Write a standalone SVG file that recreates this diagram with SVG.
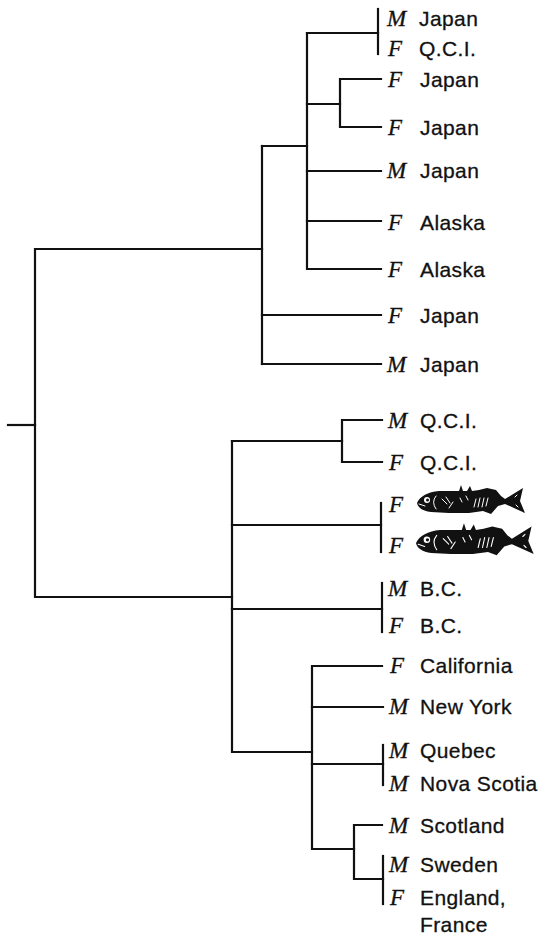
<svg xmlns="http://www.w3.org/2000/svg" width="545" height="937" viewBox="0 0 545 937">
  <style>
    .br { fill: none; stroke: #111; stroke-width: 2.2; stroke-linecap: square; }
    .sx { font-family: "Liberation Serif", "Times New Roman", serif; font-style: italic; font-size: 23px; fill: #111; stroke: #111; stroke-width: 0.3; }
    .loc { font-family: "Liberation Sans", Arial, Helvetica, sans-serif; font-size: 21px; letter-spacing: 0.4px; fill: #111; stroke: #111; stroke-width: 0.3; }
    .fw { fill: none; stroke: #fff; stroke-width: 1; stroke-linecap: round; }
  </style>
  <defs>
    <!-- stickleback silhouette, snout at the origin -->
    <g id="fish">
      <path fill="#111" d="M0,1 C3,-6 11,-10 22,-11 L42,-11 L44,-17 L46,-11 L50,-11 L53,-16 L55,-11 L62,-12 L70,-14 L79,-12 L84,-6 L88,-3 L106,-14 L103,-1 L108,11 L88,2 L81,4 L74,12 L66,9 L52,11 L32,11 L14,10 C6,9 1,6 0,1 Z"/>
      <circle cx="10" cy="-2" r="3" fill="#fff"/>
      <circle cx="10.5" cy="-2" r="1.5" fill="#111"/>
      <path class="fw" d="M2,2 L8,4"/>
      <path class="fw" d="M19,-6 Q14,0 19,7"/>
      <path class="fw" d="M25,-3 L30,2 M29,-5 L33,1 M32,6 L36,0"/>
      <path class="fw" d="M57,5 L59,-3 M61,5 L63,-4 M65,5 L67,-4 M69,4 L71,-4"/>
      <path class="fw" d="M43,-4 L45,0 M49,-6 L51,-2"/>
      <path class="fw" d="M98,-5 L100,-7 M99,3 L101,5"/>
    </g>
  </defs>

  <!-- branches of the tree -->
  <g id="connectors">
    <path class="br" d="M8,425 H35"/>
    <path class="br" d="M262,249 H35 V597 H232"/>
    <!-- upper clade -->
    <path class="br" d="M262,146 V364"/>
    <path class="br" d="M262,146 H307"/>
    <path class="br" d="M262,315 H381"/>
    <path class="br" d="M262,364 H381"/>
    <path class="br" d="M307,33 V269 H381"/>
    <path class="br" d="M307,33 H378"/>
    <path class="br" d="M378,9 V54"/>
    <path class="br" d="M307,104 H340"/>
    <path class="br" d="M381,79 H340 V127 H381"/>
    <path class="br" d="M307,171 H381"/>
    <path class="br" d="M307,221 H381"/>
    <!-- lower clade -->
    <path class="br" d="M232,441 V752 H312"/>
    <path class="br" d="M232,441 H342"/>
    <path class="br" d="M382,420 H342 V462 H382"/>
    <path class="br" d="M232,525 H381"/>
    <path class="br" d="M381,503 V552"/>
    <path class="br" d="M232,609 H382"/>
    <path class="br" d="M382,583 V632"/>
    <path class="br" d="M382,666 H312 V849 H354"/>
    <path class="br" d="M312,707 H383"/>
    <path class="br" d="M312,764 H383"/>
    <path class="br" d="M383,745 V785"/>
    <path class="br" d="M382,825 H354 V879 H383"/>
    <path class="br" d="M383,856 V904"/>
  </g>

  <!-- leaves: sex and locality -->
  <g id="leaf-01"><text class="sx" x="387" y="26">M</text><text class="loc" x="419" y="26">Japan</text></g>
  <g id="leaf-02"><text class="sx" x="388" y="56">F</text><text class="loc" x="419" y="56">Q.C.I.</text></g>
  <g id="leaf-03"><text class="sx" x="388" y="87">F</text><text class="loc" x="420" y="87">Japan</text></g>
  <g id="leaf-04"><text class="sx" x="388" y="135">F</text><text class="loc" x="420" y="135">Japan</text></g>
  <g id="leaf-05"><text class="sx" x="387" y="178">M</text><text class="loc" x="420" y="178">Japan</text></g>
  <g id="leaf-06"><text class="sx" x="388" y="230">F</text><text class="loc" x="420" y="230">Alaska</text></g>
  <g id="leaf-07"><text class="sx" x="388" y="277">F</text><text class="loc" x="420" y="277">Alaska</text></g>
  <g id="leaf-08"><text class="sx" x="388" y="323">F</text><text class="loc" x="420" y="323">Japan</text></g>
  <g id="leaf-09"><text class="sx" x="387" y="372">M</text><text class="loc" x="420" y="372">Japan</text></g>
  <g id="leaf-10"><text class="sx" x="388" y="428">M</text><text class="loc" x="420" y="428">Q.C.I.</text></g>
  <g id="leaf-11"><text class="sx" x="389" y="470">F</text><text class="loc" x="420" y="470">Q.C.I.</text></g>
  <g id="leaf-12"><text class="sx" x="389" y="512">F</text><use href="#fish" transform="translate(417,502)"/></g>
  <g id="leaf-13"><text class="sx" x="389" y="553">F</text><use href="#fish" transform="translate(416,542) scale(1.09,1.1)"/></g>
  <g id="leaf-14"><text class="sx" x="388" y="596">M</text><text class="loc" x="420" y="596">B.C.</text></g>
  <g id="leaf-15"><text class="sx" x="389" y="633">F</text><text class="loc" x="420" y="633">B.C.</text></g>
  <g id="leaf-16"><text class="sx" x="390" y="673">F</text><text class="loc" x="420" y="673">California</text></g>
  <g id="leaf-17"><text class="sx" x="389" y="714">M</text><text class="loc" x="420" y="714">New York</text></g>
  <g id="leaf-18"><text class="sx" x="389" y="758">M</text><text class="loc" x="420" y="758">Quebec</text></g>
  <g id="leaf-19"><text class="sx" x="389" y="791">M</text><text class="loc" x="420" y="791">Nova Scotia</text></g>
  <g id="leaf-20"><text class="sx" x="389" y="833">M</text><text class="loc" x="420" y="833">Scotland</text></g>
  <g id="leaf-21"><text class="sx" x="389" y="872">M</text><text class="loc" x="420" y="872">Sweden</text></g>
  <g id="leaf-22"><text class="sx" x="390" y="905">F</text><text class="loc" x="420" y="905">England,</text><text class="loc" x="420" y="932">France</text></g>
</svg>
